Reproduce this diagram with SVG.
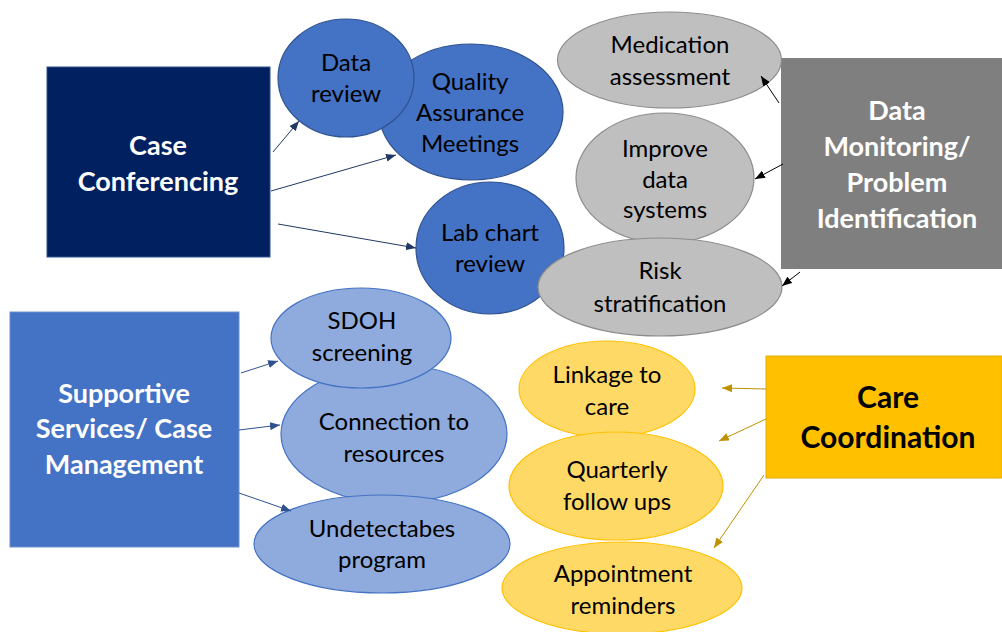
<svg xmlns="http://www.w3.org/2000/svg" width="1002" height="632" viewBox="0 0 1002 632">
  <style>
    .lbl { font-family: Lato, "Open Sans", "Liberation Sans", sans-serif; font-size: 24px; fill: #000; text-anchor: middle; }
    .hdr { font-family: Lato, "Open Sans", "Liberation Sans", sans-serif; font-weight: bold; font-size: 27px; fill: #fff; text-anchor: middle; }
    .blue { fill: #4472C4; stroke: #2F528F; stroke-width: 1.2; }
    .lblue { fill: #8FAADC; stroke: #4472C4; stroke-width: 1.2; }
    .gray { fill: #BFBFBF; stroke: #8C8C8C; stroke-width: 1.2; }
    .gold { fill: #FFD966; stroke: #FFC000; stroke-width: 1.2; }
    .c-navy { stroke: #203864; stroke-width: 1; fill: none; }
    .c-black { stroke: #000; stroke-width: 1; fill: none; }
    .c-blue { stroke: #2F528F; stroke-width: 1; fill: none; }
    .c-gold { stroke: #BF9000; stroke-width: 1; fill: none; }
  </style>
  <defs>
    <marker id="ah-navy" viewBox="0 0 10 8" refX="10" refY="4" markerWidth="10" markerHeight="8" markerUnits="userSpaceOnUse" orient="auto">
      <path d="M0,0 L10,4 L0,8 z" fill="#203864"/>
    </marker>
    <marker id="ah-black" viewBox="0 0 10 8" refX="10" refY="4" markerWidth="10" markerHeight="8" markerUnits="userSpaceOnUse" orient="auto">
      <path d="M0,0 L10,4 L0,8 z" fill="#000"/>
    </marker>
    <marker id="ah-blue" viewBox="0 0 10 8" refX="10" refY="4" markerWidth="10" markerHeight="8" markerUnits="userSpaceOnUse" orient="auto">
      <path d="M0,0 L10,4 L0,8 z" fill="#2F528F"/>
    </marker>
    <marker id="ah-gold" viewBox="0 0 10 8" refX="10" refY="4" markerWidth="10" markerHeight="8" markerUnits="userSpaceOnUse" orient="auto">
      <path d="M0,0 L10,4 L0,8 z" fill="#BF9000"/>
    </marker>
  </defs>

  <rect width="1002" height="632" fill="#fff"/>

  <!-- Case Conferencing hub -->
  <g id="case-conferencing">
    <rect x="47" y="67" width="223" height="190" fill="#002060" stroke="#2F528F" stroke-width="1"/>
    <text class="hdr" x="158" y="155">Case</text>
    <text class="hdr" x="158" y="191">Conferencing</text>
  </g>

  <!-- Data Monitoring hub -->
  <g id="data-monitoring">
    <rect x="781" y="58" width="221" height="211" fill="#7F7F7F"/>
    <text class="hdr" x="897" y="120">Data</text>
    <text class="hdr" x="897" y="156">Monitoring/</text>
    <text class="hdr" x="897" y="192">Problem</text>
    <text class="hdr" x="897" y="228">Identification</text>
  </g>

  <!-- Supportive Services hub -->
  <g id="supportive-services">
    <rect x="10" y="312" width="229" height="235" fill="#4472C4" stroke="#6F8FD0" stroke-width="1"/>
    <text class="hdr" x="124" y="403">Supportive</text>
    <text class="hdr" x="124" y="438">Services/ Case</text>
    <text class="hdr" x="124" y="474">Management</text>
  </g>

  <!-- Care Coordination hub -->
  <g id="care-coordination">
    <rect x="766" y="356" width="236" height="122" fill="#FFC000" stroke="#E6AC00" stroke-width="1"/>
    <text class="hdr" x="888" y="408" style="fill:#000;font-size:30px">Care</text>
    <text class="hdr" x="888" y="448" style="fill:#000;font-size:30px">Coordination</text>
  </g>

  <!-- Case conferencing activities -->
  <g id="quality-assurance">
    <ellipse class="blue" cx="471" cy="112" rx="92" ry="68"/>
    <text class="lbl" x="470" y="90">Quality</text>
    <text class="lbl" x="470" y="121">Assurance</text>
    <text class="lbl" x="470" y="152">Meetings</text>
  </g>
  <g id="data-review">
    <ellipse class="blue" cx="346" cy="78" rx="68" ry="59"/>
    <text class="lbl" x="346" y="71">Data</text>
    <text class="lbl" x="346" y="102">review</text>
  </g>
  <g id="lab-chart-review">
    <ellipse class="blue" cx="490" cy="248" rx="74" ry="66"/>
    <text class="lbl" x="490" y="241">Lab chart</text>
    <text class="lbl" x="490" y="272">review</text>
  </g>

  <!-- Data monitoring activities -->
  <g id="medication-assessment">
    <ellipse class="gray" cx="669.5" cy="60" rx="112" ry="48"/>
    <text class="lbl" x="670" y="53">Medication</text>
    <text class="lbl" x="670" y="85">assessment</text>
  </g>
  <g id="improve-data-systems">
    <ellipse class="gray" cx="665" cy="178" rx="89" ry="65"/>
    <text class="lbl" x="665" y="157">Improve</text>
    <text class="lbl" x="665" y="188">data</text>
    <text class="lbl" x="665" y="218">systems</text>
  </g>
  <g id="risk-stratification">
    <ellipse class="gray" cx="660" cy="287" rx="122" ry="49"/>
    <text class="lbl" x="660" y="279">Risk</text>
    <text class="lbl" x="660" y="312">stratification</text>
  </g>

  <!-- Supportive services activities -->
  <g id="connection-to-resources">
    <ellipse class="lblue" cx="394" cy="434" rx="113" ry="69"/>
    <text class="lbl" x="394" y="430">Connection to</text>
    <text class="lbl" x="394" y="462">resources</text>
  </g>
  <g id="sdoh-screening">
    <ellipse class="lblue" cx="361" cy="338" rx="90" ry="50"/>
    <text class="lbl" x="362" y="329">SDOH</text>
    <text class="lbl" x="362" y="361">screening</text>
  </g>
  <g id="undetectables-program">
    <ellipse class="lblue" cx="382" cy="544" rx="128" ry="49"/>
    <text class="lbl" x="382" y="537">Undetectabes</text>
    <text class="lbl" x="382" y="568">program</text>
  </g>

  <!-- Care coordination activities -->
  <g id="linkage-to-care">
    <ellipse class="gold" cx="607" cy="389" rx="88" ry="48"/>
    <text class="lbl" x="607" y="383">Linkage to</text>
    <text class="lbl" x="607" y="415">care</text>
  </g>
  <g id="quarterly-follow-ups">
    <ellipse class="gold" cx="616" cy="486" rx="107" ry="54"/>
    <text class="lbl" x="617" y="478">Quarterly</text>
    <text class="lbl" x="617" y="510">follow ups</text>
  </g>
  <g id="appointment-reminders">
    <ellipse class="gold" cx="622" cy="588" rx="120" ry="46"/>
    <text class="lbl" x="623" y="582">Appointment</text>
    <text class="lbl" x="623" y="614">reminders</text>
  </g>

  <!-- Connectors -->
  <g id="connectors">
    <line class="c-navy" x1="273" y1="152" x2="299" y2="121" marker-end="url(#ah-navy)"/>
    <line class="c-navy" x1="271" y1="191" x2="396" y2="155" marker-end="url(#ah-navy)"/>
    <line class="c-navy" x1="278" y1="224" x2="416" y2="248" marker-end="url(#ah-navy)"/>

    <line class="c-black" x1="779" y1="103" x2="761" y2="76" marker-end="url(#ah-black)"/>
    <line class="c-black" x1="783" y1="164" x2="755" y2="179" marker-end="url(#ah-black)"/>
    <line class="c-black" x1="800" y1="272" x2="782" y2="286" marker-end="url(#ah-black)"/>

    <line class="c-blue" x1="241" y1="373" x2="278" y2="361" marker-end="url(#ah-blue)"/>
    <line class="c-blue" x1="239" y1="430" x2="280" y2="425" marker-end="url(#ah-blue)"/>
    <line class="c-blue" x1="239" y1="493" x2="291" y2="511" marker-end="url(#ah-blue)"/>

    <line class="c-gold" x1="766" y1="389" x2="722" y2="388" marker-end="url(#ah-gold)"/>
    <line class="c-gold" x1="766" y1="419" x2="719" y2="441" marker-end="url(#ah-gold)"/>
    <line class="c-gold" x1="764" y1="475" x2="714" y2="548" marker-end="url(#ah-gold)"/>
  </g>
</svg>
